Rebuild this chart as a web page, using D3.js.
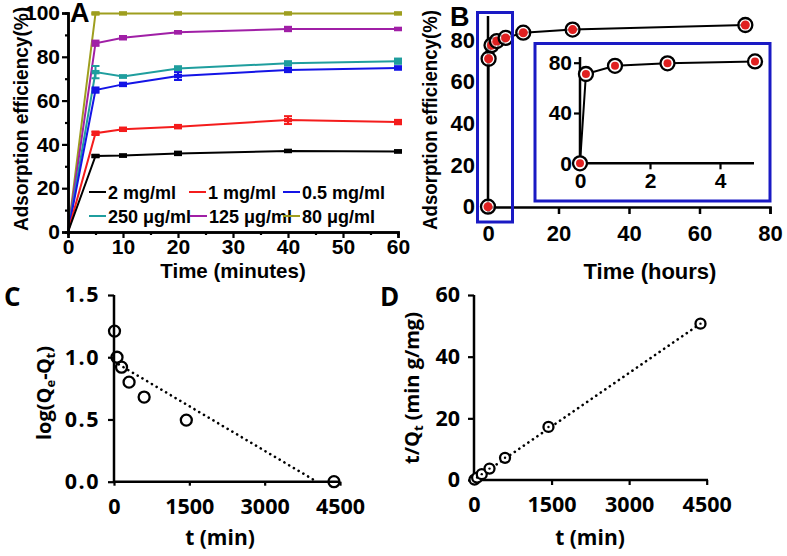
<!DOCTYPE html>
<html><head><meta charset="utf-8">
<script src="https://cdn.jsdelivr.net/npm/d3@7"></script>
<style>
html,body{margin:0;padding:0;background:#fff;}
svg{display:block;}
</style></head>
<body>
<svg id="c" width="787" height="556"></svg>
<script>
// ---------- DATA ----------
// Panel A: adsorption efficiency (%) vs time (minutes)
const timeA = [0, 5, 10, 20, 40, 60];
const seriesNamesA = ["2 mg/ml", "1 mg/ml", "0.5 mg/ml", "250 \u03bcg/ml", "125 \u03bcg/ml", "80 \u03bcg/ml"];
const seriesColorsA = ["#000000", "#f41c1c", "#1414e6", "#1f9e9e", "#a01fa6", "#9e9e1e"];
const vals2mg   = [0, 34.7, 34.9, 35.9, 37.0, 36.8];
const vals1mg   = [0, 45.1, 46.9, 48.1, 51.1, 50.2];
const vals05mg  = [0, 64.8, 67.4, 71.2, 74.0, 74.9];
const vals250ug = [0, 73.0, 71.0, 74.7, 77.0, 78.0];
const vals125ug = [0, 86.2, 88.7, 91.2, 92.7, 92.7];
const vals80ug  = [0, 99.8, 99.8, 99.8, 99.8, 99.8];
const err2mg   = [0, 0.5, 0.5, 0.8, 0.5, 0.5];
const err1mg   = [0, 0.8, 0.8, 0.8, 1.8, 1.0];
const err05mg  = [0, 1.2, 0.8, 1.8, 1.0, 0.8];
const err250ug = [0, 2.8, 0.5, 1.0, 1.0, 1.2];
const err125ug = [0, 1.2, 0.8, 0.5, 1.0, 0.5];
const err80ug  = [0, 0.3, 0.3, 0.3, 0.3, 0.3];
const ticksAx = [0, 10, 20, 30, 40, 50, 60];
const ticksAy = [0, 20, 40, 60, 80, 100];

// Panel B: adsorption efficiency (%) vs time (hours)
const timeB = [0, 0.17, 1, 2.5, 5, 10, 24, 73];
const valsB = [0, 71, 77.5, 79.5, 81, 83.5, 85, 87.2];
const ticksBx = [0, 20, 40, 60, 80];
const ticksBy = [0, 20, 40, 60, 80];
const insetCount = 5;          // first points shown in the inset
const ticksInsetX = [0, 2, 4];
const ticksInsetY = [0, 40, 80];

// Panel C: pseudo-first-order
const timeC = [10, 60, 150, 300, 600, 1440, 4380];
const valsC = [1.21, 1.0, 0.92, 0.80, 0.68, 0.495, 0.0];
const fitC_t = [0, 4040];
const fitC_v = [0.965, 0];
const ticksCx = [0, 1500, 3000, 4500];
const ticksCy = [0.0, 0.5, 1.0, 1.5];

// Panel D: pseudo-second-order
const timeD = [10, 60, 150, 300, 600, 1440, 4380];
const valsD = [0.14, 0.8, 1.9, 3.7, 7.2, 17.2, 50.7];
const fitD_t = [0, 4380];
const fitD_v = [0, 50.7];
const ticksDx = [0, 1500, 3000, 4500];
const ticksDy = [0, 20, 40, 60];

// ---------- DRAW ----------
const svg = d3.select("#c");
const ARIAL = "'Liberation Sans', Arial, sans-serif";
const CAL = "'Open Sans', Lato, sans-serif";
const BLUE = "#1a1ac4";

function txt(g, x, y, s, size, anchor, family) {
  return g.append("text").attr("x", x).attr("y", y).text(s)
    .attr("font-family", family || ARIAL).attr("font-weight", "bold")
    .attr("font-size", size).attr("text-anchor", anchor || "start").attr("fill", "#000");
}

// ===== Panel A =====
{
  const g = svg.append("g");
  const x = d3.scaleLinear().domain([0, 60]).range([68, 398]);
  const y = d3.scaleLinear().domain([0, 100]).range([232, 13]);
  const series = [
    {v: vals2mg, e: err2mg}, {v: vals1mg, e: err1mg}, {v: vals05mg, e: err05mg},
    {v: vals250ug, e: err250ug}, {v: vals125ug, e: err125ug}, {v: vals80ug, e: err80ug}
  ];
  const line = d3.line().x((d, i) => x(timeA[i])).y(d => y(d));
  series.slice().reverse().forEach((s, ri) => {
    const k = series.length - 1 - ri;
    const col = seriesColorsA[k];
    g.append("path").datum(s.v).attr("d", line).attr("fill", "none")
      .attr("stroke", col).attr("stroke-width", 2);
    s.v.forEach((v, i) => {
      if (i === 0) return;
      const cx = x(timeA[i]);
      const e = s.e[i];
      g.append("line").attr("x1", cx).attr("x2", cx).attr("y1", y(v - e)).attr("y2", y(v + e))
        .attr("stroke", col).attr("stroke-width", 2);
      [v - e, v + e].forEach(b => g.append("line").attr("x1", cx - 4).attr("x2", cx + 4)
        .attr("y1", y(b)).attr("y2", y(b)).attr("stroke", col).attr("stroke-width", 2));
      g.append("rect").attr("x", cx - 4).attr("y", y(v) - 2.2).attr("width", 8).attr("height", 4.4)
        .attr("fill", col);
    });
  });
  const ax = g.append("g").attr("transform", "translate(0,232)")
    .call(d3.axisBottom(x).tickValues(ticksAx).tickSize(6).tickPadding(1).tickFormat(d3.format("d")));
  const axm = g.append("g").attr("transform", "translate(0,232)")
    .call(d3.axisBottom(x).tickValues(d3.range(5, 60, 10)).tickSize(3).tickFormat(""));
  const ay = g.append("g").attr("transform", "translate(68,0)")
    .call(d3.axisLeft(y).tickValues(ticksAy).tickSize(6).tickPadding(2).tickFormat(d3.format("d")));
  const aym = g.append("g").attr("transform", "translate(68,0)")
    .call(d3.axisLeft(y).tickValues(d3.range(10, 100, 20)).tickSize(3).tickFormat(""));
  [ax, axm, ay, aym].forEach(a => {
    a.select(".domain").attr("stroke", "#000").attr("stroke-width", 2.5);
    a.selectAll(".tick line").attr("stroke", "#000").attr("stroke-width", 2.2);
    a.selectAll("text").attr("font-family", ARIAL).attr("font-weight", "bold")
      .attr("font-size", 21).attr("fill", "#000");
  });
  ax.selectAll("text").attr("dy", "0.72em");
  // legend
  const legPos = [[89, 192], [189, 192], [283, 192], [89, 216], [190, 216], [283, 216]];
  seriesNamesA.forEach((n, i) => {
    const [lx, ly] = legPos[i];
    g.append("line").attr("x1", lx).attr("x2", lx + 17).attr("y1", ly).attr("y2", ly)
      .attr("stroke", seriesColorsA[i]).attr("stroke-width", 2);
    txt(g, lx + 19, ly + 6.5, n, 18, "start");
  });
  txt(g, 233, 278, "Time (minutes)", 20.5, "middle");
  txt(g, 0, 0, "Adsorption efficiency(%)", 21, "middle")
    .attr("transform", "translate(28,119) rotate(-90)")
    .attr("textLength", 224).attr("lengthAdjust", "spacingAndGlyphs");
  txt(g, 70, 22, "A", 27, "start");
}

// ===== Panel B =====
{
  const g = svg.append("g");
  const x = d3.scaleLinear().domain([0, 80]).range([488, 770]);
  const y = d3.scaleLinear().domain([0, 80]).range([206.7, 40]);
  g.append("line").attr("x1", 488).attr("x2", 488).attr("y1", 16).attr("y2", 208)
    .attr("stroke", "#000").attr("stroke-width", 2.5);
  const ax = g.append("g").attr("transform", "translate(0,207)")
    .call(d3.axisBottom(x).tickValues(ticksBx).tickSize(7).tickPadding(11).tickFormat(d3.format("d")));
  const ay = g.append("g").attr("transform", "translate(488,0)")
    .call(d3.axisLeft(y).tickValues(ticksBy).tickSize(0).tickPadding(13).tickFormat(d3.format("d")));
  ay.select(".domain").remove();
  [ax, ay].forEach(a => {
    a.select(".domain").attr("stroke", "#000").attr("stroke-width", 2.5);
    a.selectAll(".tick line").attr("stroke", "#000").attr("stroke-width", 2.5);
    a.selectAll("text").attr("font-family", ARIAL).attr("font-weight", "bold")
      .attr("font-size", 22).attr("fill", "#000");
  });
  ax.selectAll("text").attr("dy", "0.74em");
  const line = d3.line().x((d, i) => x(timeB[i])).y(d => y(d));
  g.append("path").datum(valsB).attr("d", line).attr("fill", "none")
    .attr("stroke", "#000").attr("stroke-width", 2);
  valsB.forEach((v, i) => {
    g.append("circle").attr("cx", x(timeB[i])).attr("cy", y(v)).attr("r", 7)
      .attr("fill", "#fff").attr("fill-opacity", 0.6).attr("stroke", "#000").attr("stroke-width", 2.3);
    g.append("circle").attr("cx", x(timeB[i])).attr("cy", y(v)).attr("r", 4.5)
      .attr("fill", "#e02020");
  });
  g.append("rect").attr("x", 477.5).attr("y", 12.5).attr("width", 35).attr("height", 209.5)
    .attr("fill", "none").attr("stroke", BLUE).attr("stroke-width", 3);
  // inset
  g.append("rect").attr("x", 535).attr("y", 43.5).attr("width", 235).attr("height", 157.5)
    .attr("fill", "#fff").attr("stroke", BLUE).attr("stroke-width", 3);
  const xi = d3.scaleLinear().domain([0, 4]).range([580, 720]);
  const yi = d3.scaleLinear().domain([0, 80]).range([163.3, 62.7]);
  g.append("line").attr("x1", 580).attr("x2", 580).attr("y1", 57).attr("y2", 164)
    .attr("stroke", "#000").attr("stroke-width", 2.5);
  g.append("line").attr("x1", 579).attr("x2", 754).attr("y1", 163.3).attr("y2", 163.3)
    .attr("stroke", "#000").attr("stroke-width", 2.5);
  const ixa = g.append("g").attr("transform", "translate(0,163.3)")
    .call(d3.axisBottom(xi).tickValues(ticksInsetX).tickSize(6).tickPadding(3).tickFormat(d3.format("d")));
  const iya = g.append("g").attr("transform", "translate(580,0)")
    .call(d3.axisLeft(yi).tickValues(ticksInsetY).tickSize(6).tickPadding(2).tickFormat(d3.format("d")));
  [ixa, iya].forEach(a => {
    a.select(".domain").remove();
    a.selectAll(".tick line").attr("stroke", "#000").attr("stroke-width", 2.2);
    a.selectAll("text").attr("font-family", ARIAL).attr("font-weight", "bold")
      .attr("font-size", 21).attr("fill", "#000");
  });
  ixa.selectAll("text").attr("dy", "0.74em");
  const iv = valsB.slice(0, insetCount);
  const ilin = d3.line().x((d, i) => xi(timeB[i])).y(d => yi(d));
  g.append("path").datum(iv).attr("d", ilin).attr("fill", "none")
    .attr("stroke", "#000").attr("stroke-width", 2);
  iv.forEach((v, i) => {
    g.append("circle").attr("cx", xi(timeB[i])).attr("cy", yi(v)).attr("r", 7)
      .attr("fill", "#fff").attr("stroke", "#000").attr("stroke-width", 2.3);
    g.append("circle").attr("cx", xi(timeB[i])).attr("cy", yi(v)).attr("r", 4)
      .attr("fill", "#e02020");
  });
  txt(g, 650, 279, "Time (hours)", 22, "middle");
  txt(g, 0, 0, "Adsorption efficiency(%)", 21, "middle")
    .attr("transform", "translate(437,120) rotate(-90)")
    .attr("textLength", 220).attr("lengthAdjust", "spacingAndGlyphs");
  txt(g, 450, 26, "B", 27, "start");
}

// ===== Panel C =====
{
  const g = svg.append("g");
  const x = d3.scaleLinear().domain([0, 4500]).range([114, 340]);
  const y = d3.scaleLinear().domain([0, 1.5]).range([481.7, 295]);
  const ax = g.append("g").attr("transform", "translate(0,481.7)")
    .call(d3.axisBottom(x).tickValues(ticksCx).tickSize(4).tickPadding(13).tickFormat(d3.format("d")));
  const ay = g.append("g").attr("transform", "translate(114,0)")
    .call(d3.axisLeft(y).tickValues(ticksCy).tickSize(6).tickPadding(8).tickFormat(d3.format(".1f")));
  [ax, ay].forEach(a => {
    a.select(".domain").attr("stroke", "#000").attr("stroke-width", 2.5)
      .attr("d", a === ax ? "M114,0H340" : "M0,295V483");
    a.selectAll(".tick line").attr("stroke", "#000").attr("stroke-width", 2.2);
    a.selectAll("text").attr("font-family", CAL).attr("font-weight", "bold")
      .attr("font-size", 21.5).attr("fill", "#000");
  });
  ay.selectAll("text").attr("letter-spacing", 1.5);
  ax.selectAll("text").attr("dy", "0.71em");
  g.append("path").datum(fitC_t.map((t, i) => [t, fitC_v[i]]))
    .attr("d", d3.line().x(d => x(d[0])).y(d => y(d[1])))
    .attr("fill", "none").attr("stroke", "#000").attr("stroke-width", 2.6)
    .attr("stroke-linecap", "round").attr("stroke-dasharray", "0.1,5.4");
  timeC.forEach((t, i) => {
    g.append("circle").attr("cx", x(t)).attr("cy", y(valsC[i])).attr("r", 5.5)
      .attr("fill", "none").attr("stroke", "#000").attr("stroke-width", 2.3);
  });
  txt(g, 220, 545, "t (min)", 21, "middle", CAL);
  const yl = g.append("text").attr("transform", "translate(51,393) rotate(-90)")
    .attr("font-family", CAL).attr("font-weight", "bold").attr("font-size", 20)
    .attr("text-anchor", "middle").attr("fill", "#000");
  yl.append("tspan").text("log(Q");
  yl.append("tspan").text("e").attr("font-size", 13).attr("dy", 4);
  yl.append("tspan").text("-Q").attr("dy", -4).attr("letter-spacing", -0.5);
  yl.append("tspan").text("t").attr("font-size", 13).attr("dy", 4);
  yl.append("tspan").text(")").attr("dy", -4);
  txt(g, 4, 306, "C", 26, "start", CAL);
}

// ===== Panel D =====
{
  const g = svg.append("g");
  const x = d3.scaleLinear().domain([0, 4500]).range([474, 706.7]);
  const y = d3.scaleLinear().domain([0, 60]).range([480, 295]);
  const ax = g.append("g").attr("transform", "translate(0,480)")
    .call(d3.axisBottom(x).tickValues(ticksDx).tickSize(5).tickPadding(12).tickFormat(d3.format("d")));
  const ay = g.append("g").attr("transform", "translate(474,0)")
    .call(d3.axisLeft(y).tickValues(ticksDy).tickSize(6).tickPadding(8).tickFormat(d3.format("d")));
  [ax, ay].forEach(a => {
    a.select(".domain").attr("stroke", "#000").attr("stroke-width", 2.5)
      .attr("d", a === ax ? "M474,0H708" : "M0,295V481");
    a.selectAll(".tick line").attr("stroke", "#000").attr("stroke-width", 2.2);
    a.selectAll("text").attr("font-family", CAL).attr("font-weight", "bold")
      .attr("font-size", 21.5).attr("fill", "#000");
  });
  ax.selectAll("text").attr("dy", "0.71em");
  g.append("path").datum(fitD_t.map((t, i) => [t, fitD_v[i]]))
    .attr("d", d3.line().x(d => x(d[0])).y(d => y(d[1])))
    .attr("fill", "none").attr("stroke", "#000").attr("stroke-width", 2.6)
    .attr("stroke-linecap", "round").attr("stroke-dasharray", "0.1,5.4");
  timeD.forEach((t, i) => {
    g.append("circle").attr("cx", x(t)).attr("cy", y(valsD[i])).attr("r", 5)
      .attr("fill", "#fff").attr("stroke", "#000").attr("stroke-width", 2.3);
    g.append("circle").attr("cx", x(t)).attr("cy", y(valsD[i])).attr("r", 1.2).attr("fill", "#000");
  });
  txt(g, 590, 545, "t (min)", 21, "middle", CAL);
  const yl = g.append("text").attr("transform", "translate(419,388) rotate(-90)")
    .attr("font-family", CAL).attr("font-weight", "bold").attr("font-size", 20)
    .attr("text-anchor", "middle").attr("fill", "#000");
  yl.append("tspan").text("t/Q");
  yl.append("tspan").text("t").attr("font-size", 13).attr("dy", 4);
  yl.append("tspan").text(" (min g/mg)").attr("dy", -4);
  txt(g, 380, 306, "D", 26, "start", CAL);
}
</script>
</body></html>
